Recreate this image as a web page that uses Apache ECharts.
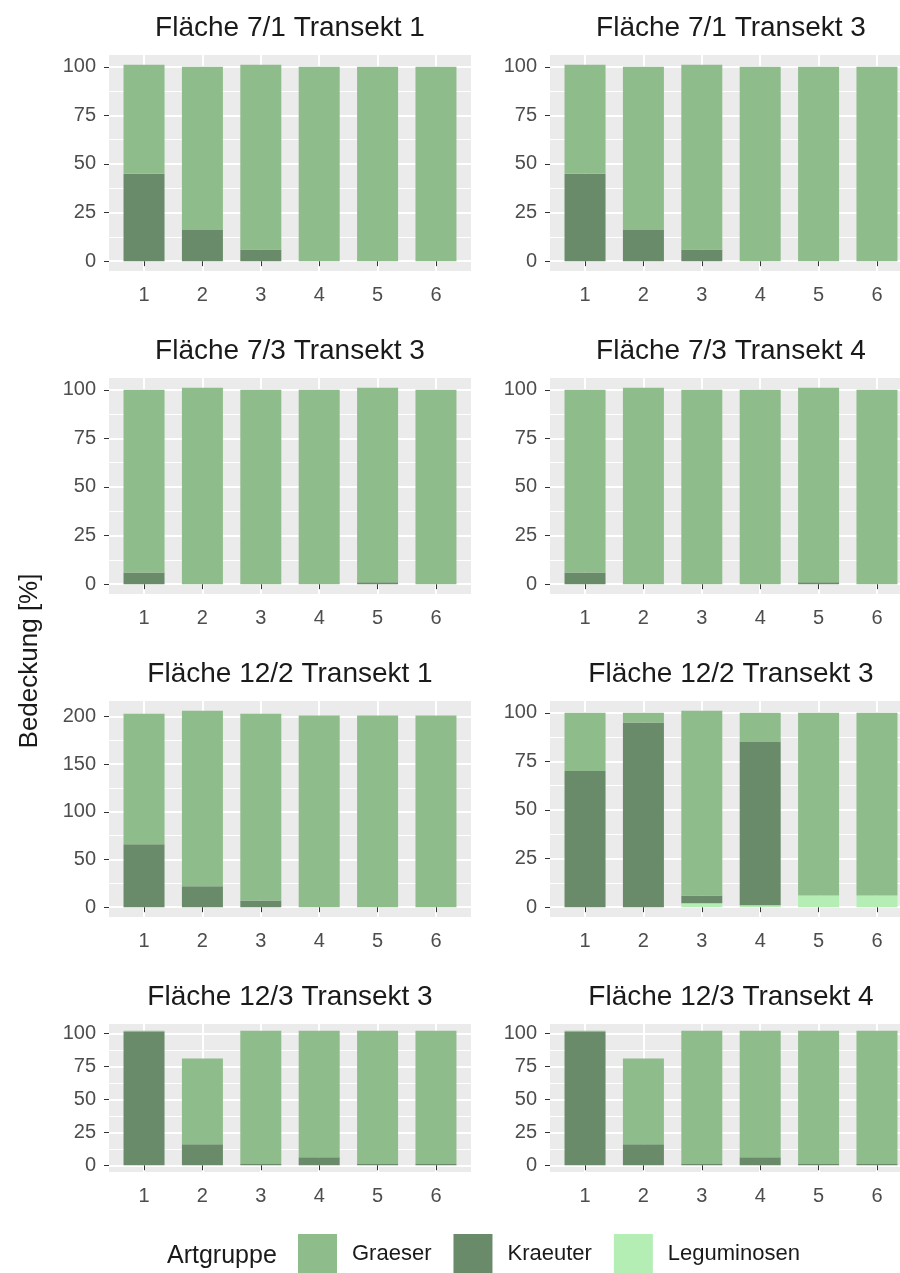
<!DOCTYPE html>
<html>
<head>
<meta charset="utf-8">
<title>Bedeckung je Transekt</title>
<script src="https://cdn.jsdelivr.net/npm/echarts@6/dist/echarts.min.js"></script>
<style>
  html, body { margin: 0; padding: 0; background: #fff; }
  #main { width: 900px; height: 1273px; }
</style>
</head>
<body>
<div id="main"></div>
<script>
// Daten, je Panel eine Zeile
var transekte = [1, 2, 3, 4, 5, 6];
var panelTitel = [
  'Fläche 7/1 Transekt 1', 'Fläche 7/1 Transekt 3',
  'Fläche 7/3 Transekt 3', 'Fläche 7/3 Transekt 4',
  'Fläche 12/2 Transekt 1', 'Fläche 12/2 Transekt 3',
  'Fläche 12/3 Transekt 3', 'Fläche 12/3 Transekt 4'
];
var graeser = [
  [56, 84, 95, 100, 100, 100],
  [56, 84, 95, 100, 100, 100],
  [94, 101, 100, 100, 100, 100],
  [94, 101, 100, 100, 100, 100],
  [137, 184, 196, 201, 201, 201],
  [30, 5, 95, 15, 94, 94],
  [1, 65, 101, 96, 101, 101],
  [1, 65, 101, 96, 101, 101]
];
var kraeuter = [
  [45, 16, 6, 0, 0, 0],
  [45, 16, 6, 0, 0, 0],
  [6, 0, 0, 0, 1, 0],
  [6, 0, 0, 0, 1, 0],
  [66, 22, 7, 0, 0, 0],
  [70, 95, 4, 84, 0, 0],
  [101, 16, 1, 6, 1, 1],
  [101, 16, 1, 6, 1, 1]
];
var leguminosen = [
  [0, 0, 0, 0, 0, 0],
  [0, 0, 0, 0, 0, 0],
  [0, 0, 0, 0, 0, 0],
  [0, 0, 0, 0, 0, 0],
  [0, 0, 0, 0, 0, 0],
  [0, 0, 2, 1, 6, 6],
  [0, 0, 0, 0, 0, 0],
  [0, 0, 0, 0, 0, 0]
];
var yTicks100 = [0, 25, 50, 75, 100];
var yTicks200 = [0, 50, 100, 150, 200];
var gruppen = ['Graeser', 'Kraeuter', 'Leguminosen'];

// Layout
var font = "'Liberation Sans', Arial, sans-serif";
var farben = { Graeser: '#8FBC8B', Kraeuter: '#698B69', Leguminosen: '#B4EEB4' };
var colLeft = [109, 550];
var rowTop = [55, 378, 701, 1024];
var rowH = [216, 216, 216, 148];
var panelW = 362;

var myChart = echarts.init(document.getElementById('main'));

var grids = [], xAxes = [], yAxes = [], series = [], graphics = [];

panelTitel.forEach(function (name, i) {
  var col = i % 2, row = Math.floor(i / 2);
  var left = colLeft[col], top = rowTop[row], h = rowH[row];
  var werte = { Graeser: graeser[i], Kraeuter: kraeuter[i], Leguminosen: leguminosen[i] };

  var maxSum = 0;
  transekte.forEach(function (t, k) {
    maxSum = Math.max(maxSum, graeser[i][k] + kraeuter[i][k] + leguminosen[i][k]);
  });
  var ticks = maxSum > 150 ? yTicks200 : yTicks100;
  var step = ticks[1] - ticks[0];
  var minor = ticks.slice(1).map(function (t) { return t - step / 2; });
  var yMin = -0.05 * maxSum, yMax = 1.05 * maxSum;

  grids.push({
    left: left, top: top, width: panelW, height: h,
    show: true, backgroundColor: '#EBEBEB', borderWidth: 0,
    containLabel: false, outerBoundsMode: 'none'
  });

  xAxes.push({
    type: 'value', gridIndex: i, min: 0.4, max: 6.6,
    axisLine: { show: false },
    axisTick: { show: true, length: 5, lineStyle: { color: '#333333', width: 1 }, customValues: transekte },
    axisLabel: { customValues: transekte, margin: 14, fontSize: 20, color: '#4D4D4D', fontFamily: font },
    splitLine: { show: true, lineStyle: { color: '#FFFFFF', width: 2 } }
  });

  // Hauptachse
  yAxes.push({
    type: 'value', gridIndex: i, min: yMin, max: yMax, position: 'left',
    axisLine: { show: false },
    axisTick: { show: true, length: 5, lineStyle: { color: '#333333', width: 1 }, customValues: ticks },
    axisLabel: { customValues: ticks, margin: 13, fontSize: 20, color: '#4D4D4D', fontFamily: font },
    splitLine: { show: true, lineStyle: { color: '#FFFFFF', width: 2 } }
  });
  // nur fuer die Nebengitterlinien
  yAxes.push({
    type: 'value', gridIndex: i, min: yMin, max: yMax, position: 'right',
    axisLine: { show: false },
    axisTick: { show: false, customValues: minor },
    axisLabel: { show: false },
    splitLine: { show: true, lineStyle: { color: '#FFFFFF', width: 1 } }
  });

  // Stapelreihenfolge: unten Leguminosen, dann Kraeuter, oben Graeser
  // Wert zuerst, damit gestapelt wird (encode y: 0)
  ['Leguminosen', 'Kraeuter', 'Graeser'].forEach(function (g) {
    series.push({
      name: g, type: 'bar', xAxisIndex: i, yAxisIndex: 2 * i,
      stack: 'p' + i, barWidth: 41,
      encode: { x: 1, y: 0 },
      itemStyle: { color: farben[g] },
      data: transekte.map(function (t, k) { return [werte[g][k], t]; })
    });
  });

  graphics.push({
    type: 'text', x: left + panelW / 2, y: top - 27,
    style: { text: name, fontSize: 28, fontFamily: font, fill: '#1A1A1A', align: 'center', verticalAlign: 'middle' }
  });
});

graphics.push({
  type: 'text', x: 30, y: 661, rotation: Math.PI / 2,
  style: { text: 'Bedeckung [%]', fontSize: 26, fontFamily: font, fill: '#1A1A1A', align: 'center', verticalAlign: 'middle' }
});
graphics.push({
  type: 'text', x: 167, y: 1256,
  style: { text: 'Artgruppe', fontSize: 25, fontFamily: font, fill: '#1A1A1A', align: 'left', verticalAlign: 'middle' }
});

var option = {
  animation: false,
  backgroundColor: '#FFFFFF',
  grid: grids,
  xAxis: xAxes,
  yAxis: yAxes,
  series: series,
  graphic: graphics,
  legend: {
    data: gruppen, left: 298, top: 1234, orient: 'horizontal',
    itemWidth: 39, itemHeight: 40, itemGap: 22, icon: 'rect', padding: 0,
    selectedMode: false,
    textStyle: { fontSize: 22, color: '#1A1A1A', fontFamily: font, padding: [0, 0, 0, 10] }
  }
};

myChart.setOption(option);
</script>
</body>
</html>
